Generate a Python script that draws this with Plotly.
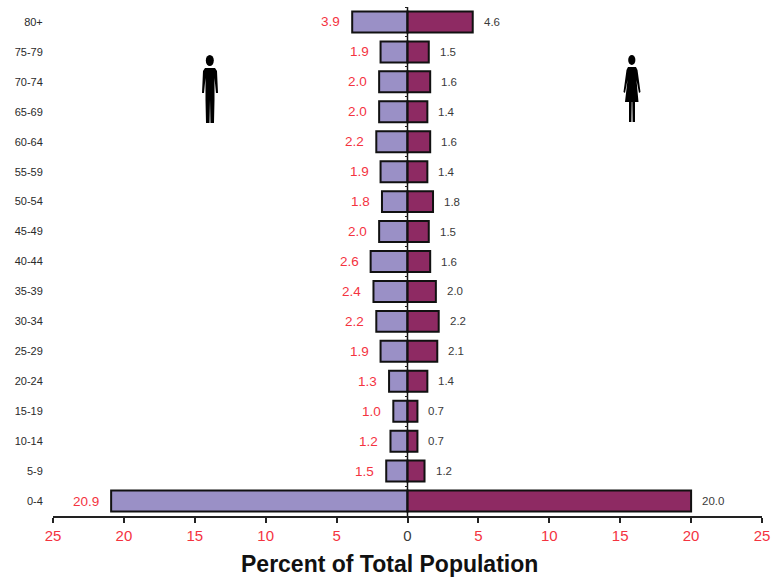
import plotly.graph_objects as go

age_groups = ["0-4", "5-9", "10-14", "15-19", "20-24", "25-29", "30-34", "35-39", "40-44",
              "45-49", "50-54", "55-59", "60-64", "65-69", "70-74", "75-79", "80+"]
male = [20.9, 1.5, 1.2, 1.0, 1.3, 1.9, 2.2, 2.4, 2.6, 2.0, 1.8, 1.9, 2.2, 2.0, 2.0, 1.9, 3.9]
female = [20.0, 1.2, 0.7, 0.7, 1.4, 2.1, 2.2, 2.0, 1.6, 1.5, 1.8, 1.4, 1.6, 1.4, 1.6, 1.5, 4.6]
x_ticks = [-25, -20, -15, -10, -5, 0, 5, 10, 15, 20, 25]
x_title = "Percent of Total Population"

W, H = 771, 578
L, R, T, B = 53, 762, 7, 516
FONT = "Liberation Sans, Arial, sans-serif"
RED = "#f4333f"
DARK = "#3a3a3a"


def pts(points):
    out = []
    for i, (px, py) in enumerate(points):
        out.append(("M" if i == 0 else "L") + f"{(px - L) / (R - L):.5f},{(B - py) / (B - T):.5f}")
    return " ".join(out) + " Z"


def head(cx, cy, rx, ry):
    return dict(type="circle", xref="paper", yref="paper", fillcolor="black", line_width=0,
                x0=(cx - rx - L) / (R - L), x1=(cx + rx - L) / (R - L),
                y0=(B - cy - ry) / (B - T), y1=(B - cy + ry) / (B - T))


man_body = [(205, 68), (215, 68), (217, 71), (218, 93), (216, 93), (214.5, 78), (214.5, 100), (214, 123),
            (210.5, 123), (210, 100), (209.5, 123), (206, 123), (205.5, 100), (205.5, 78), (204, 93), (202, 93),
            (203, 71)]
woman_body = [(628, 67), (636, 67), (637.5, 70), (640.5, 92), (639, 93), (636.5, 80), (638.5, 102), (635, 102),
              (635, 122), (632.6, 122), (632.3, 102), (631.7, 102), (631.4, 122), (629, 122), (629, 102),
              (625, 102), (627.5, 80), (625, 93), (623.5, 92), (626.5, 70)]

fig = go.Figure()
fig.add_bar(y=age_groups, x=[-v for v in male], orientation="h", marker=dict(color="#9a90c6", line=dict(color="#111", width=2)))
fig.add_bar(y=age_groups, x=female, orientation="h", marker=dict(color="#8e2a63", line=dict(color="#111", width=2)))
# carrier for the overlaid centre axis with its boundary ticks
fig.add_scatter(x=[0, 0], y=[-0.5, len(age_groups) - 0.5], yaxis="y2", mode="lines",
                line=dict(color="#111", width=1.5), hoverinfo="skip")

annotations = []
for cat, m, f in zip(age_groups, male, female):
    annotations.append(dict(x=-m, y=cat, text=f"{m:.1f}", xanchor="right", xshift=-10, showarrow=False,
                            font=dict(color=RED, size=13.5, family=FONT)))
    annotations.append(dict(x=f, y=cat, text=f"{f:.1f}", xanchor="left", xshift=9, showarrow=False,
                            font=dict(color=DARK, size=11.5, family=FONT)))
annotations.append(dict(xref="paper", yref="paper", x=(389 - L) / (R - L), y=0, yanchor="top", yshift=-33,
                        text=f"<b>{x_title}</b>", showarrow=False,
                        font=dict(size=23, color="#111", family=FONT)))

tick_text = [f'<span style="color:{DARK if t == 0 else RED}">{abs(t)}</span>' for t in x_ticks]

fig.update_layout(
    width=W, height=H, margin=dict(l=L, r=W - R, t=T, b=H - B, autoexpand=False), showlegend=False,
    barmode="overlay", bargap=0.3, plot_bgcolor="white", paper_bgcolor="white",
    font=dict(family=FONT),
    xaxis=dict(range=[-25, 25], tickvals=x_ticks, ticktext=tick_text, showgrid=False, zeroline=False,
               automargin=False, showline=True, linecolor="#222", linewidth=1.5, ticks="outside", ticklen=5,
               tickcolor="#222", tickwidth=1.5, tickfont=dict(size=15, family=FONT)),
    yaxis=dict(categoryorder="array", categoryarray=age_groups, range=[-0.5, 16.5], showgrid=False,
               automargin=False, zeroline=False, showline=False, ticks="outside", ticklen=7,
               tickcolor="rgba(0,0,0,0)", tickfont=dict(size=11, color="#2a2a2a", family=FONT)),
    yaxis2=dict(overlaying="y", anchor="free", position=0.5, side="left", range=[-0.5, 16.5],
                tickvals=[i - 0.5 for i in range(len(age_groups) + 1)], showticklabels=False, showgrid=False,
                zeroline=False, showline=False, ticks="outside", ticklen=3, tickcolor="#222", tickwidth=1.2),
    annotations=annotations,
    shapes=[
        head(209.8, 60.5, 4, 5.5),
        dict(type="path", xref="paper", yref="paper", path=pts(man_body), fillcolor="black", line_width=0),
        head(631.8, 60, 3.6, 5),
        dict(type="path", xref="paper", yref="paper", path=pts(woman_body), fillcolor="black", line_width=0),
    ],
)
fig.write_html("out.html", post_script="document.body.style.margin='0';", config=dict(displayModeBar=False))
